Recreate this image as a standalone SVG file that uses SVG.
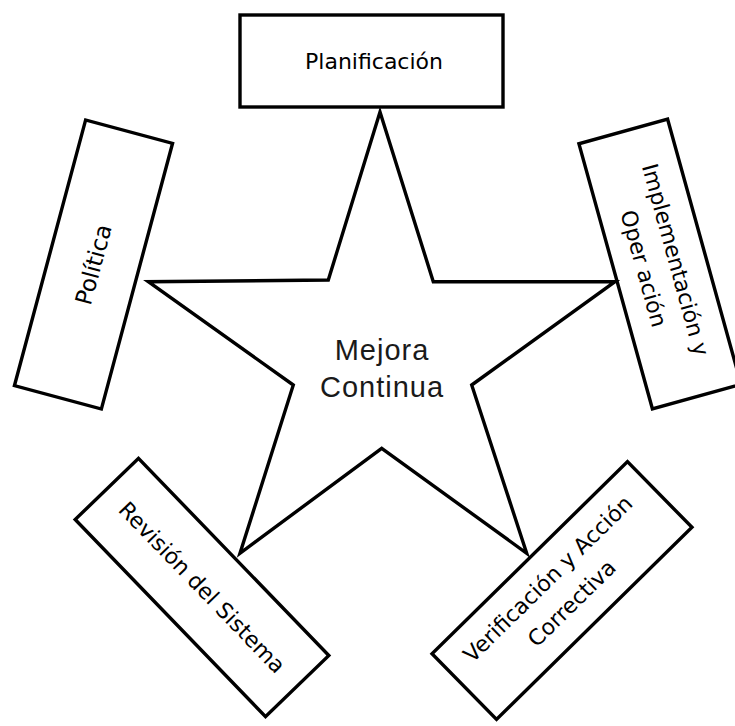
<svg xmlns="http://www.w3.org/2000/svg" width="735" height="726" viewBox="0 0 735 726">
<style>
.box{fill:#fff;stroke:#000;stroke-width:3.4;stroke-linejoin:miter}
.lbl{font-family:"DejaVu Sans","Liberation Sans",sans-serif;fill:#000;text-anchor:middle;dominant-baseline:central}
.star{fill:#fff;stroke:#000;stroke-width:3.4;stroke-linejoin:miter}
.mid{font-family:"Liberation Sans",Arial,sans-serif;font-size:29px;letter-spacing:1px;fill:#1a1a1a;text-anchor:middle}
</style>
<rect width="735" height="726" fill="#fff"/>
<g id="planificacion">
<rect class="box" x="240" y="15" width="263" height="92"/>
<text class="lbl" x="374" y="61" font-size="22">Planificación</text>
</g>
<g id="politica" transform="translate(93.5 264.5) rotate(15)">
<rect class="box" x="-45" y="-137.5" width="90" height="275"/>
<text class="lbl" x="0" y="0" font-size="23" transform="rotate(-90)">Política</text>
</g>
<g id="implementacion" transform="translate(660 264) rotate(-15.5)">
<rect class="box" x="-46" y="-137.5" width="92" height="275"/>
<g transform="rotate(90)">
<text class="lbl" x="0" y="-16" font-size="22">Implementación y</text>
<text class="lbl" x="0" y="17" font-size="22">Oper ación</text>
</g>
</g>
<g id="revision" transform="translate(202 587.5) rotate(46)">
<rect class="box" x="-137" y="-44" width="274" height="88"/>
<text class="lbl" x="0" y="0" font-size="22">Revisión del Sistema</text>
</g>
<g id="verificacion" transform="translate(562 590.5) rotate(-44.5)">
<rect class="box" x="-137" y="-46" width="274" height="92"/>
<text class="lbl" x="-2" y="-18" font-size="22">Verificación y Acción</text>
<text class="lbl" x="-2" y="16" font-size="22">Correctiva</text>
</g>
<g id="mejora-continua">
<polygon class="star" points="380,112 328.3,280 148.3,281.7 293.3,385 240,553.3 381.7,448.3 526.7,553.3 471.7,385 615,281.7 433.3,281.7"/>
<text class="mid" x="382" y="360">Mejora</text>
<text class="mid" x="382" y="397">Continua</text>
</g>
</svg>
